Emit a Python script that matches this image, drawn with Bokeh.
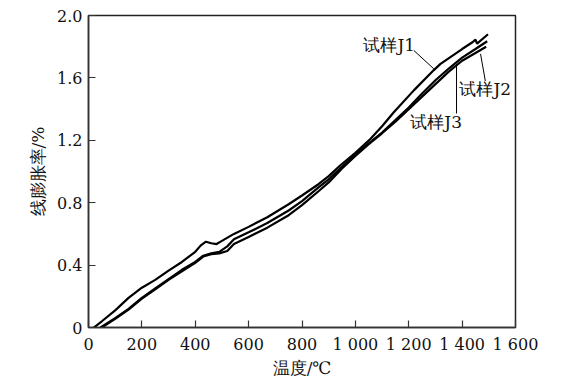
from bokeh.plotting import figure
from bokeh.models import Range1d, FixedTicker, Label
from bokeh.embed import file_html
from bokeh.resources import INLINE

# ---- data ----
T_J1 = [20, 50, 100, 150, 200, 250, 300, 350, 400, 420, 440, 460, 480, 500, 545,
        600, 670, 750, 800, 863, 900, 944, 1000, 1057, 1100, 1144, 1219, 1294,
        1319, 1400, 1440, 1450, 1456, 1497]
V_J1 = [0.0, 0.04, 0.11, 0.19, 0.255, 0.305, 0.365, 0.42, 0.485, 0.525, 0.55, 0.54,
        0.535, 0.555, 0.60, 0.645, 0.707, 0.79, 0.846, 0.92, 0.97, 1.04, 1.12,
        1.21, 1.29, 1.38, 1.52, 1.65, 1.69, 1.785, 1.83, 1.845, 1.82, 1.88]

T_J2 = [45, 100, 150, 200, 250, 300, 350, 400, 430, 460, 490, 520, 545, 600, 670,
        750, 800, 863, 900, 950, 1000, 1050, 1100, 1150, 1200, 1250, 1300, 1350,
        1400, 1450, 1494]
V_J2 = [0.0, 0.06, 0.12, 0.19, 0.25, 0.31, 0.37, 0.42, 0.46, 0.475, 0.485, 0.52,
        0.565, 0.61, 0.67, 0.75, 0.81, 0.90, 0.95, 1.03, 1.11, 1.18, 1.25, 1.33,
        1.41, 1.50, 1.585, 1.66, 1.73, 1.785, 1.835]

T_J3 = [50, 100, 150, 200, 250, 300, 350, 400, 430, 460, 490, 520, 545, 600, 670,
        750, 800, 863, 900, 950, 1000, 1050, 1100, 1150, 1200, 1250, 1300, 1350,
        1400, 1450, 1490]
V_J3 = [0.0, 0.055, 0.115, 0.185, 0.245, 0.305, 0.36, 0.415, 0.455, 0.47, 0.475,
        0.49, 0.535, 0.58, 0.64, 0.72, 0.785, 0.875, 0.93, 1.02, 1.10, 1.175, 1.245,
        1.32, 1.40, 1.48, 1.56, 1.64, 1.71, 1.76, 1.80]

series_names = ["试样J1", "试样J2", "试样J3"]

x_ticks = [0, 200, 400, 600, 800, 1000, 1200, 1400, 1600]
x_tick_labels = ["0", "200", "400", "600", "800", "1 000", "1 200", "1 400", "1 600"]
y_ticks = [0, 0.4, 0.8, 1.2, 1.6, 2.0]
y_tick_labels = ["0", "0.4", "0.8", "1.2", "1.6", "2.0"]

x_title = "温度/℃"
y_title = "线膨胀率/%"

FONT = "DejaVu Serif"

p = figure(width=566, height=383, x_range=Range1d(0, 1600), y_range=Range1d(0, 2.0),
           output_backend="svg", toolbar_location=None,
           min_border_left=88, min_border_right=51, min_border_top=15, min_border_bottom=56)

p.background_fill_color = "white"
p.border_fill_color = "white"
p.outline_line_color = "#222222"
p.outline_line_width = 1.5
p.grid.visible = False

for ax in (p.xaxis[0], p.yaxis[0]):
    ax.axis_line_color = "#333333"
    ax.axis_line_width = 1.5
    ax.major_tick_in = 7
    ax.major_tick_out = 0
    ax.major_tick_line_color = "#333333"
    ax.major_tick_line_width = 1.2
    ax.minor_tick_line_color = None
    ax.major_label_text_font = FONT
    ax.major_label_text_font_size = "16px"
    ax.major_label_text_color = "#111111"
    ax.axis_label_text_font = FONT
    ax.axis_label_text_font_size = "17px"
    ax.axis_label_text_font_style = "normal"
    ax.axis_label_text_color = "#111111"

p.xaxis.ticker = FixedTicker(ticks=x_ticks)
p.xaxis.major_label_overrides = {t: s for t, s in zip(x_ticks, x_tick_labels)}
p.yaxis.ticker = FixedTicker(ticks=y_ticks)
p.yaxis.major_label_overrides = {t: s for t, s in zip(y_ticks, y_tick_labels)}
p.xaxis.major_label_standoff = 7
p.yaxis.major_label_standoff = 6
p.xaxis.axis_label = x_title
p.yaxis.axis_label = y_title
p.xaxis.axis_label_standoff = 1
p.yaxis.axis_label_standoff = 6

for tx, vy in ((T_J1, V_J1), (T_J2, V_J2), (T_J3, V_J3)):
    p.line(tx, vy, line_color="black", line_width=2.2)

# leader lines (annotation positions)
leaders = [
    ((1219, 1294), (1.776, 1.658)),
    ((1469, 1487), (1.754, 1.58)),
    ((1379, 1379), (1.69, 1.372)),
]
for (xs, ys) in leaders:
    p.line(list(xs), list(ys), line_color="black", line_width=1)

label_pos = [(1030, 1.808), (1390, 1.529), (1206, 1.317)]
for name, (lx, ly) in zip(series_names, label_pos):
    p.add_layout(Label(x=lx, y=ly, text=name, text_font=FONT, text_font_size="17px",
                       text_baseline="middle", text_align="left", text_color="#111111"))

open("out.html", "w").write(file_html(p, INLINE))
